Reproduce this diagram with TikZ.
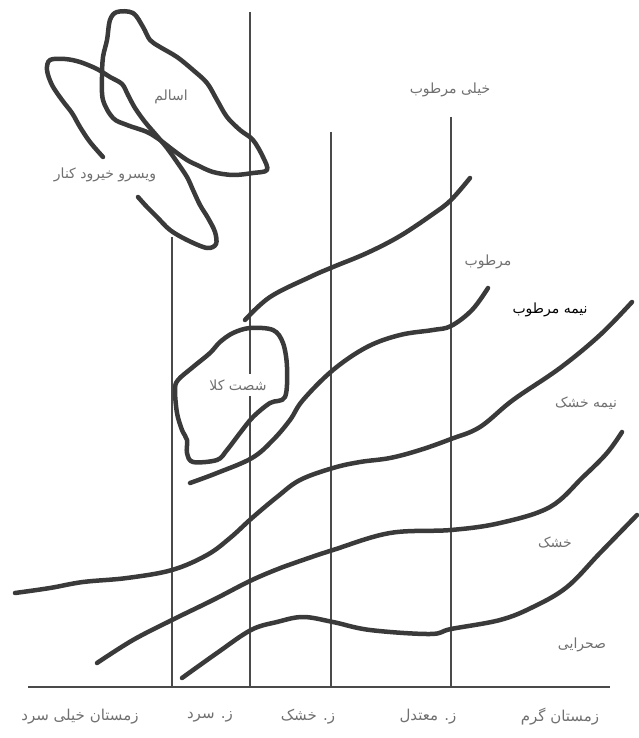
\documentclass[tikz,border=0pt]{standalone}
\usepackage{fontspec}
\usetikzlibrary{positioning}
\newfontfamily\arabicfont[Script=Arabic]{DejaVu Sans}
\TeXXeTstate=1
\newcommand{\fatext}[1]{\beginR #1\endR}
\definecolor{inkgray}{HTML}{3A3A3A}
\definecolor{rulegray}{HTML}{4A4A4A}
\definecolor{txtgray}{HTML}{707070}

\begin{document}
\begin{tikzpicture}[
  x=1pt, y=-1pt,
  zone/.style={draw=inkgray, line width=4.5pt, line cap=round, line join=round},
  rule/.style={draw=rulegray, line width=1.3pt},
  lbl/.style={font=\arabicfont\fontsize{14}{16}\selectfont, text=txtgray, inner sep=1pt},
  axlbl/.style={lbl, font=\arabicfont\fontsize{15}{17}\selectfont},
  darklbl/.style={font=\arabicfont\fontsize{14}{16}\selectfont, text=black, inner sep=1pt},
]

\useasboundingbox (0,0) rectangle (638,738);

% =============================================
% Axis and winter-type rules
% =============================================
\draw[rule] (28,687) -- (610,687);
\draw[rule] (172,237) -- (172,687);
\draw[rule] (250,12)  -- (250,687);
\draw[rule] (331,132) -- (331,687);
\draw[rule] (451,117) -- (451,687);

% =============================================
% Bioclimatic boundaries
% =============================================
\draw[zone] plot[smooth, tension=0.6] coordinates {
  (245,320) (270,297) (310,277) (333,267) (367,253) (400,236) (433,214) (451,200) (470,178)};
\draw[zone] plot[smooth, tension=0.6] coordinates {
  (190,483) (217,473) (252,458) (273,440) (290,420) (303,400) (333,370) (367,347) (400,335) (433,330) (451,326) (472,310) (488,288)};
\draw[zone] plot[smooth, tension=0.6] coordinates {
  (15,593) (50,588) (83,582) (127,578) (172,570) (207,555) (230,538) (252,518) (277,497) (300,480) (333,468) (360,462) (390,458) (420,450) (451,439) (480,427) (513,400) (560,368) (600,335) (632,302)};
\draw[zone] plot[smooth, tension=0.6] coordinates {
  (97,663) (133,640) (172,620) (213,600) (252,580) (283,567) (300,561) (333,550) (390,533) (451,530) (500,523) (550,507) (583,477) (607,453) (622,432)};
\draw[zone] plot[smooth, tension=0.6] coordinates {
  (182,678) (217,653) (251,630) (277,622) (303,617) (333,622) (370,630) (430,634) (451,629) (500,620) (533,607) (567,587) (600,553) (637,515)};

% =============================================
% Stations
% =============================================
% Asalem
\draw[zone] plot[smooth cycle, tension=0.55] coordinates {
  (117,12) (133,13) (143,27) (150,40) (160,47) (177,57) (193,70) (207,83) (217,100) (227,117) (240,130) (253,140) (263,157) (267,170) (253,173) (233,175) (213,172) (197,165) (187,160) (173,150) (160,140) (147,132) (127,125) (113,118) (103,100) (102,77) (103,57) (107,40) (110,20)};
% Visroud / Kheyroud Kenar (open at its label)
\draw[zone] plot[smooth, tension=0.55] coordinates {
  (138,197) (147,207) (157,217) (170,230) (187,240) (207,248) (216,244) (215,232) (208,218) (200,205) (193,190) (187,177) (177,162) (167,148) (157,136) (145,122) (135,108) (128,95) (122,84) (110,77) (97,69) (80,62) (65,59) (50,60) (47,70) (52,85) (62,100) (72,113) (80,127) (90,142) (103,157)};
% Shast Kola
\draw[zone] plot[smooth cycle, tension=0.55] coordinates {
  (250,328) (273,330) (283,343) (287,367) (285,397) (270,403) (253,417) (240,433) (227,450) (217,460) (193,462) (187,453) (187,440) (182,430) (177,413) (175,390) (178,380) (193,367) (210,353) (220,342) (233,333)};

% =============================================
% Labels
% =============================================
\node[lbl] (asalem) at (171,97) {\fatext{اسالم}};
\node[lbl] (visroud) at (105,175) {\fatext{ویسرو خیرود کنار}};
\node[lbl, fill=white, inner ysep=6pt] (shastkola) at (238,385) {\fatext{شصت کلا}};

\node[lbl] (veryhumid) at (450,90) {\fatext{خیلی مرطوب}};
\node[lbl] (humid) at (488,262) {\fatext{مرطوب}};
\node[darklbl] (subhumid) at (550,310) {\fatext{نیمه مرطوب}};
\node[lbl] (semiarid) at (586,403) {\fatext{نیمه خشک}};
\node[lbl] (arid) at (555,542) {\fatext{خشک}};
\node[lbl] (desert) at (582,645) {\fatext{صحرایی}};

\node[axlbl] (wvcold) at (80,717) {\fatext{زمستان خیلی سرد}};
\node[axlbl] (wcold) at (210,717) {\fatext{ز. سرد}};
\node[axlbl] (wdry) at (308,717) {\fatext{ز. خشک}};
\node[axlbl] (wmild) at (428,717) {\fatext{ز. معتدل}};
\node[axlbl] (wwarm) at (560,717) {\fatext{زمستان گرم}};

\end{tikzpicture}
\end{document}
